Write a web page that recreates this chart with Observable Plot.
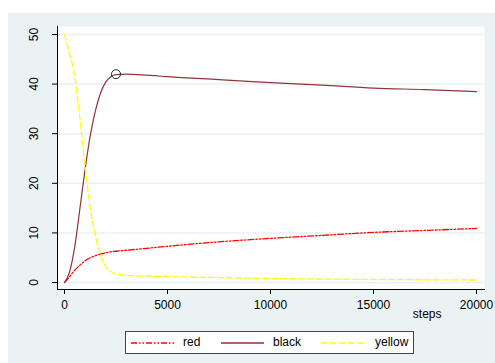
<!DOCTYPE html>
<html><head><meta charset="utf-8">
<script src="https://cdn.jsdelivr.net/npm/d3@7"></script>
<script src="https://cdn.jsdelivr.net/npm/@observablehq/plot@0.6"></script>
<style>
body{margin:0;background:#fff;font-family:Arial,"Liberation Sans",sans-serif;}
#wrap{position:relative;width:495px;height:363px;overflow:hidden;}
#bg{position:absolute;left:8px;top:13px;right:0;bottom:0;background:#eaf2f3;}
#chart{position:absolute;left:0;top:0;}
#legend{position:absolute;left:125px;top:331px;width:287px;height:21px;background:#fff;border:1px solid #444;}
.item{position:absolute;top:0;height:21px;font-size:12px;line-height:21px;color:#000;white-space:nowrap}
.sw{position:absolute;top:0;}
</style></head>
<body><div id="wrap"><div id="bg"></div><div id="chart"></div><div id="legend"></div></div>
<script>
const steps  = [0,250,500,750,1000,1250,1500,1750,2000,2250,2500,3000,4000,5000,7500,10000,12500,15000,17500,20000];
const red    = [0,1.2,2.5,3.5,4.4,5.0,5.4,5.75,6.0,6.2,6.3,6.5,6.9,7.3,8.2,8.9,9.5,10.1,10.5,10.9];
const black  = [0,2.2,7.3,15,22.8,29.6,34.6,38.2,40.4,41.5,41.9,42,41.8,41.5,40.9,40.3,39.8,39.2,38.9,38.5];
const yellow = [50,46,41.5,33,23.5,15,9.5,5.6,3.2,2.2,1.7,1.45,1.3,1.2,1.0,0.8,0.7,0.6,0.55,0.5];
const seriesNames = ["red","black","yellow"];
const seriesColors = ["#ff0000","#90353b","#ffff00"];
const seriesDash = ["6,2,1.5,2,1.5,2","none","6,3"];
const yTicks = [0,10,20,30,40,50];
const xTicks = [0,5000,10000,15000,20000];
const markerStep = [2500];
const markerValue = [42];
const xTitle = "steps";

const rows = steps.map((s,i)=>({s, red:red[i], black:black[i], yellow:yellow[i]}));
const marker = markerStep.map((s,i)=>({s, v:markerValue[i]}));

const lineMarks = seriesNames.map((name,k)=>Plot.line(rows,{x:"s", y:name, stroke:seriesColors[k],
  strokeDasharray:seriesDash[k], strokeWidth: k===1?1.2:1.3, curve:"monotone-x"}));

const plot = Plot.plot({
  width:495, height:322,
  marginLeft:57, marginRight:11, marginTop:26, marginBottom:33,
  style:{background:"transparent", fontFamily:"Arial, 'Liberation Sans', sans-serif", fontSize:"12px", color:"#000", overflow:"visible"},
  x:{domain:[0,20000], range:[64,476]},
  y:{domain:[0,50], range:[282,34]},
  marks:[
    Plot.frame({fill:"white", stroke:"none"}),
    Plot.gridY(yTicks,{stroke:"#eaf2f3", strokeOpacity:1, strokeWidth:1.5}),
    Plot.axisY(yTicks,{tickSize:5, tickPadding:15, tickRotate:-90, label:null, fontSize:12, tickFormat:"d"}),
    Plot.axisX(xTicks,{tickSize:5, tickPadding:6, label:null, fontSize:12, tickFormat:"d"}),
    Plot.frame({anchor:"left", stroke:"black"}),
    Plot.frame({anchor:"bottom", stroke:"black"}),
    ...lineMarks,
    Plot.dot(marker,{x:"s", y:"v", r:4.5, stroke:"#222", fill:"none", strokeWidth:1}),
    Plot.text([xTitle],{frameAnchor:"bottom-right", text:d=>d, textAnchor:"end", dx:-43, dy:28, fontSize:12})
  ]
});
document.getElementById("chart").appendChild(plot);

// legend
const legend = document.getElementById("legend");
const swX = [4,94,194], txtX = [57,147,249], swW = 43;
seriesNames.forEach((name,k)=>{
  const sv = d3.create("svg").attr("class","sw").attr("width",swW+2).attr("height",21)
    .style("left",swX[k]+"px");
  sv.append("line").attr("x1",1).attr("x2",swW+1).attr("y1",11).attr("y2",11)
    .attr("stroke",seriesColors[k]).attr("stroke-width",1.3)
    .attr("stroke-dasharray",seriesDash[k]==="none"?null:seriesDash[k]);
  legend.appendChild(sv.node());
  const t = document.createElement("div");
  t.className="item"; t.style.left=txtX[k]+"px"; t.textContent=name;
  legend.appendChild(t);
});
</script>
</body></html>
